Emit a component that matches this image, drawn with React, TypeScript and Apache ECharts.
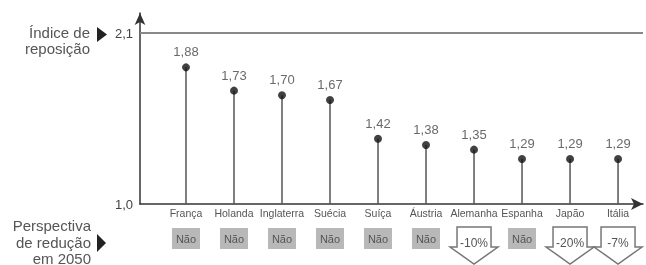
import React, { useEffect, useRef } from "react";
import * as echarts from "echarts";

const countries = ["França", "Holanda", "Inglaterra", "Suécia", "Suíça", "Áustria", "Alemanha", "Espanha", "Japão", "Itália"];
const indices = [1.88, 1.73, 1.70, 1.67, 1.42, 1.38, 1.35, 1.29, 1.29, 1.29];
const reductions = ["Não", "Não", "Não", "Não", "Não", "Não", "-10%", "Não", "-20%", "-7%"];
const yTicks = [1.0, 2.1];
const replacementLevel = 2.1;

const FONT = "'Liberation Sans', Arial, sans-serif";
const fmt = (v: number, d: number) => v.toFixed(d).replace(".", ",");

export default function App() {
  const ref = useRef<HTMLDivElement>(null);
  useEffect(() => {
    const chart = echarts.init(ref.current!, null, { renderer: "svg" });
    const pts = indices.map((v, i) => [i, v]);
    chart.setOption({
      animation: false,
      textStyle: { fontFamily: FONT },
      grid: { left: 140, right: 3, top: 13, bottom: 61 },
      xAxis: {
        type: "value",
        min: -0.958,
        max: 9.52,
        axisLine: { show: true, onZero: false, symbol: ["none", "arrow"], symbolSize: [9, 12], lineStyle: { color: "#333", width: 1.5 } },
        axisTick: { show: false },
        splitLine: { show: false },
        axisLabel: {
          customValues: countries.map((_, i) => i),
          formatter: (v: number) => countries[Math.round(v)] ?? "",
          fontSize: 10.5,
          color: "#555",
          margin: 3,
        },
      },
      yAxis: {
        type: "value",
        min: 1.0,
        max: 2.23,
        axisLine: { show: true, onZero: false, symbol: ["none", "arrow"], symbolSize: [8, 12], lineStyle: { color: "#333", width: 1.5 } },
        axisTick: { show: false },
        splitLine: { show: false },
        axisLabel: {
          customValues: yTicks,
          formatter: (v: number) => fmt(v, 1),
          fontSize: 13,
          color: "#444",
          margin: 7,
        },
      },
      series: [
        {
          type: "custom",
          data: pts,
          renderItem: (_p: any, api: any) => {
            const i = api.value(0);
            const v = api.value(1);
            const a = api.coord([i, 1.0]);
            const b = api.coord([i, v]);
            return {
              type: "line",
              shape: { x1: a[0], y1: a[1], x2: b[0], y2: b[1] },
              style: { stroke: "#555", lineWidth: 1.5 },
            };
          },
          z: 2,
        },
        {
          type: "scatter",
          data: pts,
          symbolSize: 8,
          itemStyle: { color: "#111" },
          label: {
            show: true,
            position: "top",
            distance: 5,
            fontSize: 13,
            color: "#444",
            formatter: (p: any) => fmt(p.value[1], 2),
          },
          markLine: {
            silent: true,
            symbol: ["none", "none"],
            label: { show: false },
            lineStyle: { color: "#888", width: 2, type: "solid" },
            data: [{ yAxis: replacementLevel }],
          },
          z: 3,
        },
        {
          type: "custom",
          data: reductions.map((r, i) => [i, 1.0, r]),
          clip: false,
          renderItem: (_p: any, api: any) => {
            const i = api.value(0);
            const label = reductions[i];
            const x = api.coord([i, 1.0])[0];
            if (label === "Não") {
              return {
                type: "group",
                children: [
                  { type: "rect", shape: { x: x - 14, y: 228, width: 28, height: 21 }, style: { fill: "#b8b8b8" } },
                  { type: "text", x, y: 238.5, style: { text: label, fontSize: 11, fill: "#555", align: "center", verticalAlign: "middle", fontFamily: FONT } },
                ],
              };
            }
            return {
              type: "group",
              children: [
                {
                  type: "polygon",
                  shape: {
                    points: [
                      [x - 17, 227], [x + 17, 227], [x + 17, 247], [x + 24, 247],
                      [x, 264], [x - 24, 247], [x - 17, 247],
                    ],
                  },
                  style: { fill: "#fff", stroke: "#777", lineWidth: 1.5 },
                },
                { type: "text", x, y: 243, style: { text: label, fontSize: 12, fill: "#555", align: "center", verticalAlign: "middle", fontFamily: FONT } },
              ],
            };
          },
        },
      ],
      graphic: [
        { type: "text", x: 90, y: 32, style: { text: "Índice de", fontSize: 15, fill: "#555", align: "right", verticalAlign: "middle", fontFamily: FONT } },
        { type: "text", x: 90, y: 48, style: { text: "reposição", fontSize: 15, fill: "#555", align: "right", verticalAlign: "middle", fontFamily: FONT } },
        { type: "polygon", shape: { points: [[97, 27], [107, 34.5], [97, 42]] }, style: { fill: "#222" } },
        { type: "text", x: 91, y: 225, style: { text: "Perspectiva", fontSize: 15, fill: "#555", align: "right", verticalAlign: "middle", fontFamily: FONT } },
        { type: "text", x: 91, y: 242, style: { text: "de redução", fontSize: 15, fill: "#555", align: "right", verticalAlign: "middle", fontFamily: FONT } },
        { type: "text", x: 91, y: 258, style: { text: "em 2050", fontSize: 15, fill: "#555", align: "right", verticalAlign: "middle", fontFamily: FONT } },
        { type: "polygon", shape: { points: [[97, 234], [106, 243], [97, 252]] }, style: { fill: "#222" } },
      ],
    });
    return () => chart.dispose();
  }, []);
  return <div ref={ref} style={{ position: "fixed", left: 0, top: 0, width: 646, height: 265 }} />;
}
